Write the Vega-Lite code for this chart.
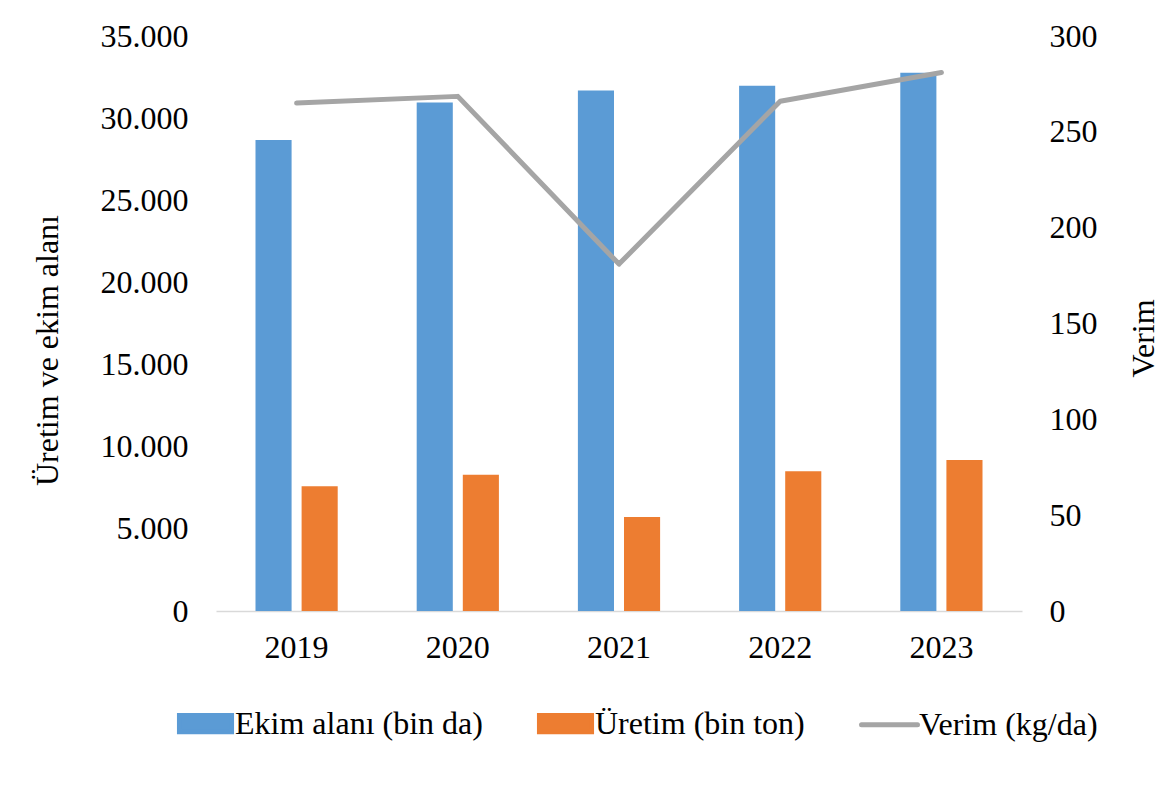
{
  "$schema": "https://vega.github.io/schema/vega-lite/v6.json",
  "width": 806,
  "height": 575,
  "autosize": {"type": "none"},
  "padding": {"left": 216, "top": 36, "right": 154, "bottom": 194},
  "background": "white",
  "config": {
    "view": {"stroke": null},
    "font": "Liberation Serif",
    "axis": {"labelFont": "Liberation Serif", "titleFont": "Liberation Serif", "labelFontSize": 32, "titleFontSize": 32, "labelColor": "#000000", "titleColor": "#000000", "titleFontWeight": "normal", "grid": false, "ticks": false},
    "legend": {"labelFont": "Liberation Serif", "labelFontSize": 32, "labelColor": "#000000", "labelLimit": 500}
  },
  "data": {"values": [
    {"year": "2019", "series": "Ekim alanı (bin da)", "value": 28670},
    {"year": "2020", "series": "Ekim alanı (bin da)", "value": 30950},
    {"year": "2021", "series": "Ekim alanı (bin da)", "value": 31690},
    {"year": "2022", "series": "Ekim alanı (bin da)", "value": 31970},
    {"year": "2023", "series": "Ekim alanı (bin da)", "value": 32760},
    {"year": "2019", "series": "Üretim (bin ton)", "value": 7590},
    {"year": "2020", "series": "Üretim (bin ton)", "value": 8300},
    {"year": "2021", "series": "Üretim (bin ton)", "value": 5720},
    {"year": "2022", "series": "Üretim (bin ton)", "value": 8500},
    {"year": "2023", "series": "Üretim (bin ton)", "value": 9190},
    {"year": "2019", "series": "Verim (kg/da)", "value": 265},
    {"year": "2020", "series": "Verim (kg/da)", "value": 268.5},
    {"year": "2021", "series": "Verim (kg/da)", "value": 181},
    {"year": "2022", "series": "Verim (kg/da)", "value": 266},
    {"year": "2023", "series": "Verim (kg/da)", "value": 281}
  ]},
  "encoding": {
    "x": {
      "field": "year", "type": "nominal",
      "scale": {"paddingInner": 0.49, "paddingOuter": 0.245},
      "axis": {"title": null, "labelAngle": 0, "domainColor": "#D9D9D9", "domainWidth": 1.5, "labelPadding": 21}
    },
    "color": {
      "field": "series", "type": "nominal",
      "scale": {"domain": ["Ekim alanı (bin da)", "Üretim (bin ton)", "Verim (kg/da)"], "range": ["#5B9BD5", "#ED7D31", "#A5A5A5"]},
      "legend": {
        "title": null, "orient": "none", "direction": "horizontal",
        "legendX": -41, "legendY": 657, "padding": 0,
        "symbolSize": 3136, "labelOffset": -1, "columnPadding": 46,
        "encode": {
          "symbols": {"update": {
            "shape": {"signal": "datum.value === 'Verim (kg/da)' ? 'M-1,0H1' : 'M-0.93,-0.29H0.93V0.29H-0.93Z'"},
            "fill": {"signal": "datum.value === 'Verim (kg/da)' ? 'transparent' : scale('color', datum.value)"},
            "stroke": {"signal": "datum.value === 'Verim (kg/da)' ? '#A5A5A5' : 'transparent'"},
            "strokeWidth": {"value": 5},
            "strokeCap": {"value": "round"},
            "opacity": {"value": 1}
          }}
        }
      }
    }
  },
  "layer": [
    {
      "transform": [{"filter": "datum.series !== 'Verim (kg/da)'"}],
      "mark": {"type": "bar"},
      "encoding": {
        "xOffset": {"field": "series", "type": "nominal", "scale": {"domain": ["Ekim alanı (bin da)", "Üretim (bin ton)"], "paddingInner": 0.217, "paddingOuter": 0}},
        "y": {
          "field": "value", "type": "quantitative",
          "scale": {"domain": [0, 35000], "nice": false},
          "axis": {"orient": "left", "title": "Üretim ve ekim alanı", "values": [0, 5000, 10000, 15000, 20000, 25000, 30000, 35000], "labelExpr": "replace(format(datum.value, ','), ',', '.')", "domain": false, "labelPadding": 28, "titleX": -169, "titleY": 314, "titleAngle": -90, "titleAlign": "center", "titleBaseline": "middle"}
        }
      }
    },
    {
      "transform": [{"filter": "datum.series === 'Verim (kg/da)'"}],
      "mark": {"type": "line", "strokeWidth": 5, "strokeCap": "round", "strokeJoin": "round"},
      "encoding": {
        "y": {
          "field": "value", "type": "quantitative",
          "scale": {"domain": [0, 300], "nice": false},
          "axis": {"orient": "right", "title": "Verim", "values": [0, 50, 100, 150, 200, 250, 300], "domain": false, "labelPadding": 27, "titleX": 121, "titleY": 302, "titleAngle": -90, "titleAlign": "center", "titleBaseline": "middle"}
        }
      }
    }
  ],
  "resolve": {"scale": {"y": "independent"}}
}
